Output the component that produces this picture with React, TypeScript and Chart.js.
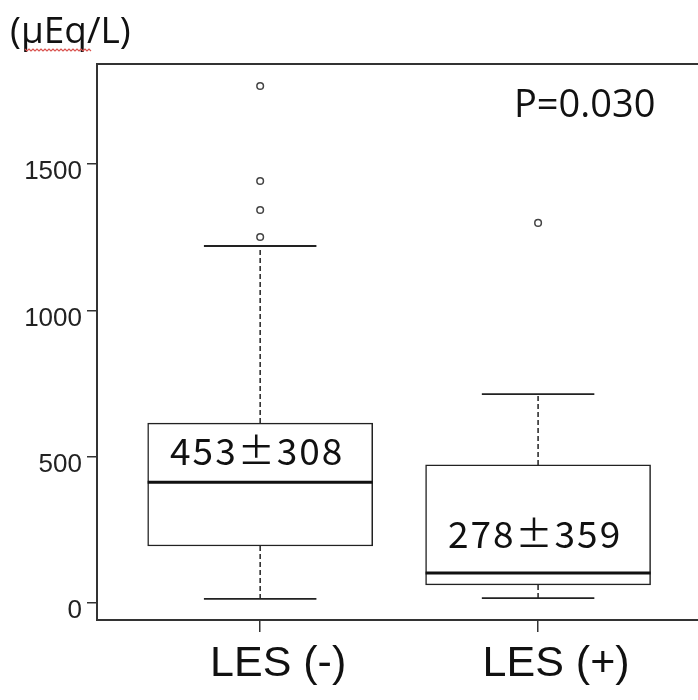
import React, { useEffect, useRef } from 'react';
import { Chart, registerables } from 'chart.js';

Chart.register(...registerables);

// ---- data ----
const categories = ['LES (-)', 'LES (+)'];
const categoryPos = [1, 2];
const q1 = [195, 62];
const q3 = [615, 472];
const medians = [413, 103];
const whiskerLow = [14, 17];
const whiskerHigh = [1220, 714];
const outliersNeg = [1767, 1442, 1343, 1251];
const outliersPos = [1299];
const meanSdLabels = ['453±308', '278±359'];
const yTicks = [0, 500, 1000, 1500];
const pValueText = 'P=0.030';
const yUnit = '(μEq/L)';

const BOX_WIDTH = 225;
const INK = '#222';

const boxPlugin = {
  id: 'boxExtras',
  afterDatasetsDraw(chart: any) {
    const { ctx, scales } = chart;
    const x = scales.x;
    const y = scales.y;
    ctx.save();
    categoryPos.forEach((pos, i) => {
      const cx = x.getPixelForValue(pos);
      const half = BOX_WIDTH / 2;
      const capHalf = BOX_WIDTH / 4;
      const yQ1 = y.getPixelForValue(q1[i]);
      const yQ3 = y.getPixelForValue(q3[i]);
      const yMed = y.getPixelForValue(medians[i]);
      const yLo = y.getPixelForValue(whiskerLow[i]);
      const yHi = y.getPixelForValue(whiskerHigh[i]);
      // dashed whiskers
      ctx.strokeStyle = INK;
      ctx.lineWidth = 1.5;
      ctx.setLineDash([5, 3]);
      ctx.beginPath();
      ctx.moveTo(cx, yQ3);
      ctx.lineTo(cx, yHi);
      ctx.moveTo(cx, yQ1);
      ctx.lineTo(cx, yLo);
      ctx.stroke();
      ctx.setLineDash([]);
      // caps
      ctx.lineWidth = 1.8;
      ctx.beginPath();
      ctx.moveTo(cx - capHalf, yHi);
      ctx.lineTo(cx + capHalf, yHi);
      ctx.moveTo(cx - capHalf, yLo);
      ctx.lineTo(cx + capHalf, yLo);
      ctx.stroke();
      // median
      ctx.lineWidth = 3;
      ctx.strokeStyle = '#111';
      ctx.beginPath();
      ctx.moveTo(cx - half, yMed);
      ctx.lineTo(cx + half, yMed);
      ctx.stroke();
    });
    ctx.restore();
  },
  afterDraw(chart: any) {
    const { ctx, scales, chartArea } = chart;
    const x = scales.x;
    const y = scales.y;
    ctx.save();
    // top frame line
    ctx.strokeStyle = '#333';
    ctx.lineWidth = 2;
    ctx.beginPath();
    ctx.moveTo(chartArea.left - 1, chartArea.top);
    ctx.lineTo(chart.width, chartArea.top);
    ctx.moveTo(chartArea.right, chartArea.bottom);
    ctx.lineTo(chart.width, chartArea.bottom);
    ctx.stroke();

    // mean ± SD labels
    const labelValues = [471, 188];
    ctx.fillStyle = '#111';
    ctx.font = '37px "Noto Sans CJK JP", "Open Sans", sans-serif';
    ctx.textAlign = 'center';
    ctx.textBaseline = 'alphabetic';
    try { (ctx as any).letterSpacing = '2px'; } catch (e) {}
    meanSdLabels.forEach((t, i) => {
      ctx.fillText(t, x.getPixelForValue(categoryPos[i]) - 3, y.getPixelForValue(labelValues[i]));
    });
    try { (ctx as any).letterSpacing = '0px'; } catch (e) {}

    // p value
    ctx.font = '38px "Open Sans", sans-serif';
    ctx.textAlign = 'left';
    ctx.fillText(pValueText, 514, 117);

    // unit title
    ctx.font = '37px "Open Sans", sans-serif';
    ctx.textBaseline = 'middle';
    ctx.fillText(yUnit, 10, 32);

    // spell-check squiggle
    ctx.strokeStyle = '#d9534f';
    ctx.lineWidth = 1.2;
    ctx.beginPath();
    for (let px = 25, k = 0; px <= 92; px += 2, k++) {
      const py = 49 + (k % 2 === 0 ? 0 : 2);
      if (k === 0) ctx.moveTo(px, py);
      else ctx.lineTo(px, py);
    }
    ctx.stroke();
    ctx.restore();
  },
};

export default function App() {
  const ref = useRef<HTMLCanvasElement | null>(null);

  useEffect(() => {
    document.body.style.margin = '0';
    const canvas = ref.current;
    if (!canvas) return;
    const chart = new Chart(canvas, {
      type: 'bar',
      data: {
        datasets: [
          {
            type: 'bar',
            data: categoryPos.map((p, i) => ({ x: p, y: [q1[i], q3[i]] })) as any,
            backgroundColor: '#ffffff',
            borderColor: INK,
            borderWidth: 1.5,
            borderSkipped: false,
            barThickness: BOX_WIDTH,
          } as any,
          {
            type: 'scatter',
            data: [
              ...outliersNeg.map((v) => ({ x: categoryPos[0], y: v })),
              ...outliersPos.map((v) => ({ x: categoryPos[1], y: v })),
            ],
            pointRadius: 3.3,
            pointBorderWidth: 1.5,
            pointBorderColor: '#444',
            pointBackgroundColor: '#fff',
          } as any,
        ],
      },
      options: {
        animation: false,
        responsive: false,
        maintainAspectRatio: false,
        layout: { padding: { top: 64, right: 0, left: 0, bottom: 0 } },
        plugins: { legend: { display: false }, tooltip: { enabled: false } },
        scales: {
          x: {
            type: 'linear',
            offset: false,
            min: 0.4129,
            max: 2.5556,
            afterBuildTicks: (s: any) => {
              s.ticks = categoryPos.map((v) => ({ value: v }));
            },
            afterFit: (s: any) => {
              s.height = 80;
            },
            ticks: {
              autoSkip: false,
              maxRotation: 0,
              padding: 6,
              labelOffset: 18,
              color: '#111',
              font: { family: '"Liberation Sans", Arial, sans-serif', size: 43 },
              callback: (v: any) => {
                const idx = categoryPos.indexOf(Number(v));
                return idx >= 0 ? categories[idx] : '';
              },
            },
            grid: { offset: false, drawOnChartArea: false, drawTicks: true, tickLength: 12, color: '#333', lineWidth: 1.5 },
            border: { display: true, color: '#333', width: 2 },
          },
          y: {
            type: 'linear',
            min: -58,
            max: 1842,
            afterBuildTicks: (s: any) => {
              s.ticks = yTicks.map((v) => ({ value: v }));
            },
            afterFit: (s: any) => {
              s.width = 97;
            },
            ticks: {
              padding: 5,
              labelOffset: 8,
              color: '#222',
              font: { family: '"Liberation Sans", Arial, sans-serif', size: 26 },
              callback: (v: any) => String(v),
            },
            grid: { drawOnChartArea: false, drawTicks: true, tickLength: 10, color: '#333', lineWidth: 1.5 },
            border: { display: true, color: '#333', width: 2 },
          },
        },
      },
      plugins: [boxPlugin],
    });
    return () => chart.destroy();
  }, []);

  return (
    <canvas
      ref={ref}
      width={698}
      height={700}
      style={{ display: 'block', width: 698, height: 700 }}
    />
  );
}
